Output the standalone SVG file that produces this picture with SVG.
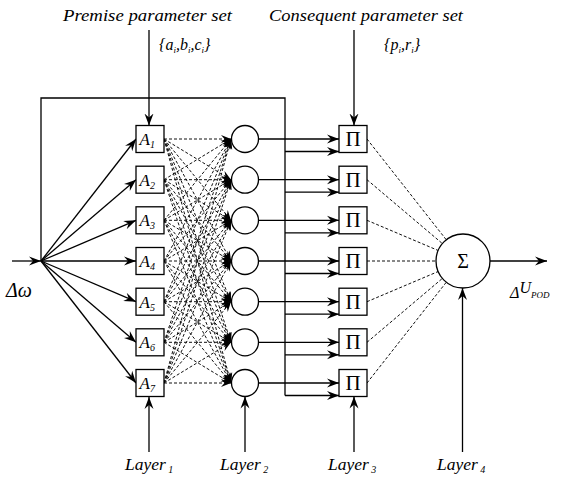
<svg xmlns="http://www.w3.org/2000/svg" width="563" height="481" viewBox="0 0 563 481">
  <style>
    .ln { fill: none; stroke: #000; stroke-width: 1.3; }
    .dash { fill: none; stroke: #111; stroke-width: 1; stroke-dasharray: 3 2; }
    .box { fill: #fff; stroke: #000; stroke-width: 1.3; }
    .it { font-family: "Liberation Serif", "Times New Roman", serif; font-style: italic; fill: #000; }
    .rm { font-family: "Liberation Serif", "Times New Roman", serif; fill: #000; }
  </style>
  <defs>
    <marker id="ah" markerUnits="userSpaceOnUse" markerWidth="14" markerHeight="10" refX="12" refY="5" orient="auto">
      <path d="M0,0.5 L12,5 L0,9.5 L4,5 Z" fill="#000"/>
    </marker>
    <marker id="ahs" markerUnits="userSpaceOnUse" markerWidth="12" markerHeight="10" refX="10" refY="4.5" orient="auto">
      <path d="M0,0.5 L10,4.5 L0,8.5 L3.5,4.5 Z" fill="#000"/>
    </marker>
  </defs>

  <!-- headings -->
  <g id="premise-label">
    <text class="it" x="63" y="21" font-size="17.5" textLength="169" lengthAdjust="spacingAndGlyphs">Premise parameter set</text>
    <text class="it" x="159" y="50" font-size="16">{a<tspan font-size="9" dy="3">i</tspan><tspan dy="-3">,b</tspan><tspan font-size="9" dy="3">i</tspan><tspan dy="-3">,c</tspan><tspan font-size="9" dy="3">i</tspan><tspan dy="-3">}</tspan></text>
  </g>
  <g id="consequent-label">
    <text class="it" x="269" y="21" font-size="17.5" textLength="194" lengthAdjust="spacingAndGlyphs">Consequent parameter set</text>
    <text class="it" x="384" y="50" font-size="16">{p<tspan font-size="9" dy="3">i</tspan><tspan dy="-3">,r</tspan><tspan font-size="9" dy="3">i</tspan><tspan dy="-3">}</tspan></text>
  </g>

  <!-- connectors -->
  <g id="connectors">
    <!-- feedback frame and input -->
    <path class="ln" d="M41 261 V98 H285 V395.5"/>
    <path class="ln" d="M12 261 H41" marker-end="url(#ah)"/>
    <!-- input fan-out to layer 1 -->
    <path class="ln" d="M41 261 L136 139" marker-end="url(#ah)"/>
    <path class="ln" d="M41 261 L136 179.7" marker-end="url(#ah)"/>
    <path class="ln" d="M41 261 L136 220.3" marker-end="url(#ah)"/>
    <path class="ln" d="M41 261 L136 261" marker-end="url(#ah)"/>
    <path class="ln" d="M41 261 L136 301.7" marker-end="url(#ah)"/>
    <path class="ln" d="M41 261 L136 342.3" marker-end="url(#ah)"/>
    <path class="ln" d="M41 261 L136 383" marker-end="url(#ah)"/>
    <!-- layer 1 to layer 2: full mesh -->
    <g class="dash" marker-end="url(#ahs)">
      <path d="M164 139 L231 139"/><path d="M164 139 L231 179.7"/><path d="M164 139 L231 220.3"/><path d="M164 139 L231 261"/><path d="M164 139 L231 301.7"/><path d="M164 139 L231 342.3"/><path d="M164 139 L231 383"/>
      <path d="M164 179.7 L231 139"/><path d="M164 179.7 L231 179.7"/><path d="M164 179.7 L231 220.3"/><path d="M164 179.7 L231 261"/><path d="M164 179.7 L231 301.7"/><path d="M164 179.7 L231 342.3"/><path d="M164 179.7 L231 383"/>
      <path d="M164 220.3 L231 139"/><path d="M164 220.3 L231 179.7"/><path d="M164 220.3 L231 220.3"/><path d="M164 220.3 L231 261"/><path d="M164 220.3 L231 301.7"/><path d="M164 220.3 L231 342.3"/><path d="M164 220.3 L231 383"/>
      <path d="M164 261 L231 139"/><path d="M164 261 L231 179.7"/><path d="M164 261 L231 220.3"/><path d="M164 261 L231 261"/><path d="M164 261 L231 301.7"/><path d="M164 261 L231 342.3"/><path d="M164 261 L231 383"/>
      <path d="M164 301.7 L231 139"/><path d="M164 301.7 L231 179.7"/><path d="M164 301.7 L231 220.3"/><path d="M164 301.7 L231 261"/><path d="M164 301.7 L231 301.7"/><path d="M164 301.7 L231 342.3"/><path d="M164 301.7 L231 383"/>
      <path d="M164 342.3 L231 139"/><path d="M164 342.3 L231 179.7"/><path d="M164 342.3 L231 220.3"/><path d="M164 342.3 L231 261"/><path d="M164 342.3 L231 301.7"/><path d="M164 342.3 L231 342.3"/><path d="M164 342.3 L231 383"/>
      <path d="M164 383 L231 139"/><path d="M164 383 L231 179.7"/><path d="M164 383 L231 220.3"/><path d="M164 383 L231 261"/><path d="M164 383 L231 301.7"/><path d="M164 383 L231 342.3"/><path d="M164 383 L231 383"/>
    </g>
    <!-- layer 2 to layer 3 -->
    <g class="ln" marker-end="url(#ah)">
      <path d="M258.5 139 H339"/><path d="M285 151.5 H339"/>
      <path d="M258.5 179.7 H339"/><path d="M285 192.2 H339"/>
      <path d="M258.5 220.3 H339"/><path d="M285 232.8 H339"/>
      <path d="M258.5 261 H339"/><path d="M285 273.5 H339"/>
      <path d="M258.5 301.7 H339"/><path d="M285 314.2 H339"/>
      <path d="M258.5 342.3 H339"/><path d="M285 354.8 H339"/>
      <path d="M258.5 383 H339"/><path d="M285 395.5 H339"/>
    </g>
    <!-- layer 3 to layer 4 -->
    <g class="dash">
      <path d="M367 139 L446.3 239.8"/>
      <path d="M367 179.7 L442.4 243.6"/>
      <path d="M367 220.3 L438.2 250.5"/>
      <path d="M367 261 L436 261"/>
      <path d="M367 301.7 L438.2 271.5"/>
      <path d="M367 342.3 L442.4 278.4"/>
      <path d="M367 383 L446.3 282.2"/>
    </g>
    <!-- output -->
    <path class="ln" d="M490 261 H547" marker-end="url(#ah)"/>
    <!-- parameter inputs -->
    <path class="ln" d="M149 30 V125.5" marker-end="url(#ah)"/>
    <path class="ln" d="M354 30 V125.5" marker-end="url(#ah)"/>
    <!-- layer pointers -->
    <path class="ln" d="M149 452 V397" marker-end="url(#ah)"/>
    <path class="ln" d="M245 452 V396.5" marker-end="url(#ah)"/>
    <path class="ln" d="M354 452 V396.5" marker-end="url(#ah)"/>
    <path class="ln" d="M462.5 452 V288" marker-end="url(#ah)"/>
  </g>

  <!-- layer 1: membership nodes -->
  <g id="A1"><rect class="box" x="136" y="125.5" width="28" height="27"/><text class="it" x="139.5" y="145" font-size="17">A<tspan font-size="10" dy="3">1</tspan></text></g>
  <g id="A2"><rect class="box" x="136" y="166.2" width="28" height="27"/><text class="it" x="139.5" y="185.7" font-size="17">A<tspan font-size="10" dy="3">2</tspan></text></g>
  <g id="A3"><rect class="box" x="136" y="206.8" width="28" height="27"/><text class="it" x="139.5" y="226.3" font-size="17">A<tspan font-size="10" dy="3">3</tspan></text></g>
  <g id="A4"><rect class="box" x="136" y="247.5" width="28" height="27"/><text class="it" x="139.5" y="267" font-size="17">A<tspan font-size="10" dy="3">4</tspan></text></g>
  <g id="A5"><rect class="box" x="136" y="288.2" width="28" height="27"/><text class="it" x="139.5" y="307.7" font-size="17">A<tspan font-size="10" dy="3">5</tspan></text></g>
  <g id="A6"><rect class="box" x="136" y="328.8" width="28" height="27"/><text class="it" x="139.5" y="348.3" font-size="17">A<tspan font-size="10" dy="3">6</tspan></text></g>
  <g id="A7"><rect class="box" x="136" y="369.5" width="28" height="27"/><text class="it" x="139.5" y="389" font-size="17">A<tspan font-size="10" dy="3">7</tspan></text></g>

  <!-- layer 2: rule nodes -->
  <g id="R1"><circle class="box" cx="245" cy="139" r="13.5"/></g>
  <g id="R2"><circle class="box" cx="245" cy="179.7" r="13.5"/></g>
  <g id="R3"><circle class="box" cx="245" cy="220.3" r="13.5"/></g>
  <g id="R4"><circle class="box" cx="245" cy="261" r="13.5"/></g>
  <g id="R5"><circle class="box" cx="245" cy="301.7" r="13.5"/></g>
  <g id="R6"><circle class="box" cx="245" cy="342.3" r="13.5"/></g>
  <g id="R7"><circle class="box" cx="245" cy="383" r="13.5"/></g>

  <!-- layer 3: product nodes -->
  <g id="P1"><rect class="box" x="339" y="125.5" width="28" height="27"/><text class="rm" x="353" y="146" font-size="21" text-anchor="middle">Π</text></g>
  <g id="P2"><rect class="box" x="339" y="166.2" width="28" height="27"/><text class="rm" x="353" y="186.7" font-size="21" text-anchor="middle">Π</text></g>
  <g id="P3"><rect class="box" x="339" y="206.8" width="28" height="27"/><text class="rm" x="353" y="227.3" font-size="21" text-anchor="middle">Π</text></g>
  <g id="P4"><rect class="box" x="339" y="247.5" width="28" height="27"/><text class="rm" x="353" y="268" font-size="21" text-anchor="middle">Π</text></g>
  <g id="P5"><rect class="box" x="339" y="288.2" width="28" height="27"/><text class="rm" x="353" y="308.7" font-size="21" text-anchor="middle">Π</text></g>
  <g id="P6"><rect class="box" x="339" y="328.8" width="28" height="27"/><text class="rm" x="353" y="349.3" font-size="21" text-anchor="middle">Π</text></g>
  <g id="P7"><rect class="box" x="339" y="369.5" width="28" height="27"/><text class="rm" x="353" y="390" font-size="21" text-anchor="middle">Π</text></g>

  <!-- layer 4: summation node -->
  <g id="sum"><circle class="box" cx="463" cy="261" r="27"/><text class="rm" x="463" y="268" font-size="20" text-anchor="middle">Σ</text></g>

  <!-- input / output labels -->
  <g id="input-label"><text class="it" x="6" y="297" font-size="20">Δω</text></g>
  <g id="output-label"><text class="it" x="510" y="298" font-size="16">Δ<tspan dy="-5">U</tspan><tspan font-size="9" dy="5">POD</tspan></text></g>

  <!-- layer captions -->
  <g id="layer-labels">
    <text class="it" x="125" y="470" font-size="17.5">Layer<tspan font-size="10" dy="3"> 1</tspan></text>
    <text class="it" x="220" y="470" font-size="17.5">Layer<tspan font-size="10" dy="3"> 2</tspan></text>
    <text class="it" x="328" y="470" font-size="17.5">Layer<tspan font-size="10" dy="3"> 3</tspan></text>
    <text class="it" x="437" y="470" font-size="17.5">Layer<tspan font-size="10" dy="3"> 4</tspan></text>
  </g>
</svg>
